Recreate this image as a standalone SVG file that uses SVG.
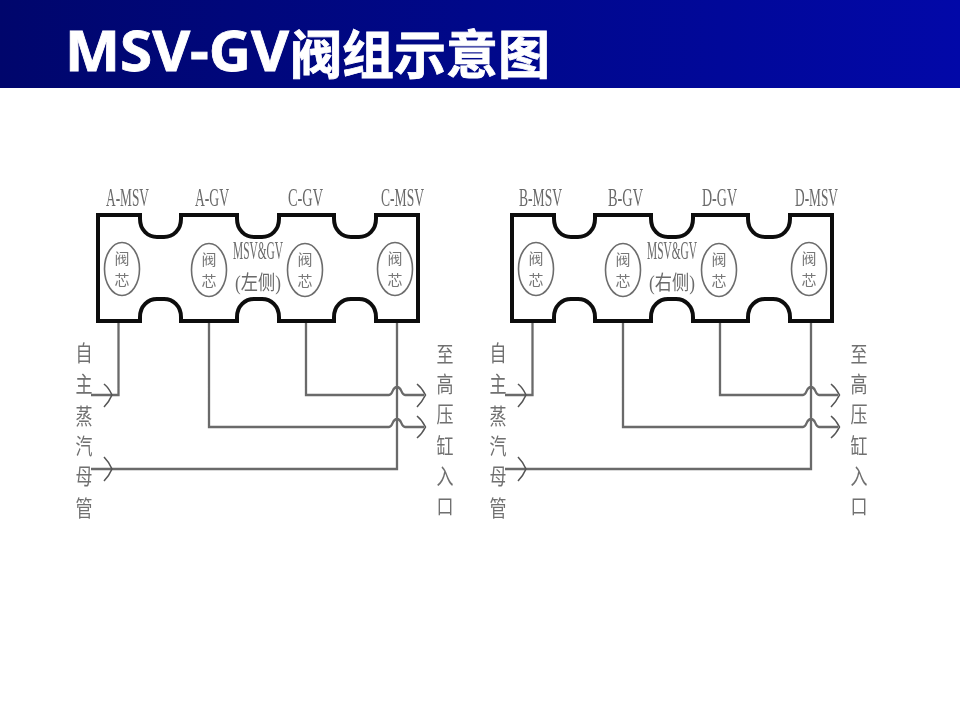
<svg xmlns="http://www.w3.org/2000/svg" xmlns:xlink="http://www.w3.org/1999/xlink" width="960" height="720" viewBox="0 0 960 720">
<style>
.t{font-family:"Liberation Serif","Noto Sans CJK SC",serif;fill:#6a6a6a}
.l{font-size:26px}
.m{font-size:26px}
.s{font-size:20px}
.c{font-size:17px;text-anchor:middle;fill:#707070}
.v{font-size:15px;text-anchor:middle;fill:#777}
.body{fill:#fff;stroke:#111;stroke-width:4;stroke-linejoin:miter}
.core{fill:none;stroke:#6c6c6c;stroke-width:1.6}
.w{fill:none;stroke:#6a6a6a;stroke-width:2.300}
.a{fill:none;stroke:#555;stroke-width:1.600}
.title{font-weight:700;fill:#fff;stroke:#fff;stroke-width:0.800}
</style>
<defs>
<linearGradient id="h" x1="0" x2="1" y1="0" y2="0"><stop offset="0" stop-color="#00066c"/><stop offset="0.5" stop-color="#00088a"/><stop offset="1" stop-color="#0208a8"/></linearGradient>
<filter id="b" x="-2%" y="-2%" width="104%" height="104%"><feGaussianBlur stdDeviation="0.55"/></filter>
<path id="shape" d="M98 215H140V219C140 230 148 237 157 237H164C173 237 181 230 181 219V215H237V219C237 230 245 237 254 237H262C271 237 279 230 279 219V215H334V219C334 230 342 237 351 237H359C368 237 376 230 376 219V215H418V321H376V317C376 306 368 299 359 299H351C342 299 334 306 334 317V321H279V317C279 306 271 299 262 299H254C245 299 237 306 237 317V321H181V317C181 306 173 299 164 299H157C148 299 140 306 140 317V321H98Z"/>
<g id="coreShape"><ellipse cx="0" cy="0" rx="17.500" ry="26.500" class="core"/><text class="t v" x="0" y="-5">阀</text><text class="t v" x="0" y="17">芯</text></g>
<path id="wires" d="M118.500 321V395H91M209 321V427H389C393 427 392 419 397 419C402 419 401 427 405 427H424M306 321V395H389C393 395 392 387 397 387C402 387 401 395 405 395H424M397 321V469H91"/>
<path id="heads" d="M104 384Q109 388 112 395Q109 402 104 407M104 457Q109 462 112 469Q109 476 104 481M417 384Q422 388 425.500 395Q422 402 417 407M417 416Q422 420 425.500 427Q422 434 417 438"/>
<g id="src"><text class="t c" transform="translate(0 361) scale(1 1.300)">自</text><text class="t c" transform="translate(0 392) scale(1 1.300)">主</text><text class="t c" transform="translate(0 424) scale(1 1.300)">蒸</text><text class="t c" transform="translate(0 454) scale(1 1.300)">汽</text><text class="t c" transform="translate(0 484) scale(1 1.300)">母</text><text class="t c" transform="translate(0 516) scale(1 1.300)">管</text></g>
<g id="dst"><text class="t c" transform="translate(0 362) scale(1 1.300)">至</text><text class="t c" transform="translate(0 392) scale(1 1.300)">高</text><text class="t c" transform="translate(0 422) scale(1 1.300)">压</text><text class="t c" transform="translate(0 454) scale(1 1.300)">缸</text><text class="t c" transform="translate(0 484) scale(1 1.300)">入</text><text class="t c" transform="translate(0 514) scale(1 1.200)">口</text></g>
</defs>
<rect width="960" height="720" fill="#fff"/>
<rect width="960" height="88" fill="url(#h)"/>
<text class="title" x="65" y="71" font-family="'Open Sans','Noto Sans',sans-serif" font-size="56" textLength="224" lengthAdjust="spacingAndGlyphs">MSV-GV</text>
<text class="title" x="290" y="74" font-family="'Noto Sans CJK SC',sans-serif" font-size="52">阀组示意图</text>
<g filter="url(#b)">
<g id="connectors">
<use xlink:href="#wires" href="#wires" class="w"/><use xlink:href="#heads" href="#heads" class="a"/>
<g transform="translate(414 0)"><use xlink:href="#wires" href="#wires" class="w"/><use xlink:href="#heads" href="#heads" class="a"/></g>
</g>
<g id="block-left">
<use xlink:href="#shape" href="#shape" class="body"/>
<use xlink:href="#coreShape" href="#coreShape" x="122" y="269"/>
<use xlink:href="#coreShape" href="#coreShape" x="209" y="270"/>
<use xlink:href="#coreShape" href="#coreShape" x="305" y="270"/>
<use xlink:href="#coreShape" href="#coreShape" x="395" y="269"/>
<text class="t m" x="233" y="259" textLength="50" lengthAdjust="spacingAndGlyphs">MSV&amp;GV</text>
<text class="t s" x="235" y="290" textLength="46" lengthAdjust="spacingAndGlyphs">(左侧)</text>
</g>
<g id="block-right">
<use xlink:href="#shape" href="#shape" class="body" x="414"/>
<use xlink:href="#coreShape" href="#coreShape" x="536" y="269"/>
<use xlink:href="#coreShape" href="#coreShape" x="623" y="270"/>
<use xlink:href="#coreShape" href="#coreShape" x="719" y="270"/>
<use xlink:href="#coreShape" href="#coreShape" x="809" y="269"/>
<text class="t m" x="647" y="259" textLength="50" lengthAdjust="spacingAndGlyphs">MSV&amp;GV</text>
<text class="t s" x="649" y="290" textLength="46" lengthAdjust="spacingAndGlyphs">(右侧)</text>
</g>
<g id="labels">
<text class="t l" x="106" y="206" textLength="43" lengthAdjust="spacingAndGlyphs">A-MSV</text>
<text class="t l" x="195" y="206" textLength="34" lengthAdjust="spacingAndGlyphs">A-GV</text>
<text class="t l" x="288" y="206" textLength="35" lengthAdjust="spacingAndGlyphs">C-GV</text>
<text class="t l" x="381" y="206" textLength="43" lengthAdjust="spacingAndGlyphs">C-MSV</text>
<text class="t l" x="519" y="206" textLength="43" lengthAdjust="spacingAndGlyphs">B-MSV</text>
<text class="t l" x="608" y="206" textLength="35" lengthAdjust="spacingAndGlyphs">B-GV</text>
<text class="t l" x="702" y="206" textLength="35" lengthAdjust="spacingAndGlyphs">D-GV</text>
<text class="t l" x="795" y="206" textLength="43" lengthAdjust="spacingAndGlyphs">D-MSV</text>
<use xlink:href="#src" href="#src" x="84"/>
<use xlink:href="#dst" href="#dst" x="445"/>
<use xlink:href="#src" href="#src" x="498"/>
<use xlink:href="#dst" href="#dst" x="859"/>
</g>
</g>
</svg>
